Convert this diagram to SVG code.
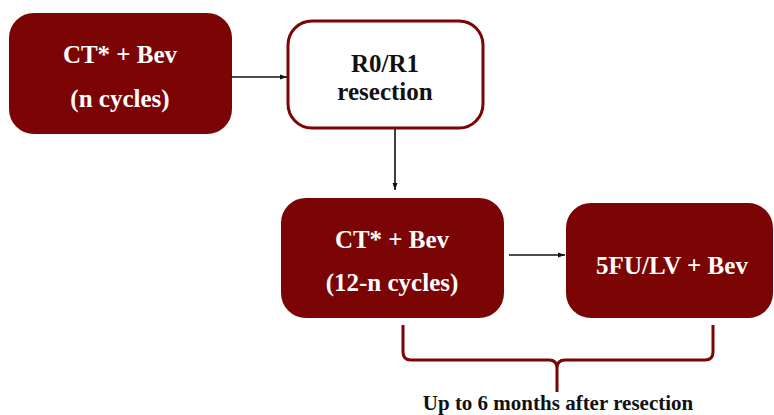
<svg xmlns="http://www.w3.org/2000/svg" width="774" height="415" viewBox="0 0 774 415">
<style>
.dark{fill:#7b0404;stroke:#7b0404;stroke-width:2}
.light{fill:#fff;stroke:#7b0404;stroke-width:3}
.tw{font-family:"Liberation Serif","Times New Roman",serif;font-weight:bold;font-size:25px;fill:#fff;text-anchor:middle}
.tb{font-family:"Liberation Serif","Times New Roman",serif;font-weight:bold;font-size:25px;fill:#111;text-anchor:middle}
.conn{stroke:#111;stroke-width:1.6;fill:none;marker-end:url(#ah)}
.brace{stroke:#7b0404;stroke-width:3;fill:none}
</style>
<defs>
<marker id="ah" markerWidth="8" markerHeight="8" refX="7" refY="4" orient="auto" markerUnits="userSpaceOnUse">
<path d="M0,1.5 L7,4 L0,6.5 Z" fill="#111"/>
</marker>
</defs>
<rect width="774" height="415" fill="#fff"/>
<g id="n1">
<rect class="dark" x="10" y="14" width="221" height="119" rx="24"/>
<text class="tw" x="120" y="63">CT* + Bev</text>
<text class="tw" x="120" y="107">(n cycles)</text>
</g>
<g id="n2">
<rect class="light" x="288" y="21" width="195" height="107" rx="24"/>
<text class="tb" x="385" y="72">R0/R1</text>
<text class="tb" x="385" y="100">resection</text>
</g>
<g id="n3">
<rect class="dark" x="282" y="199" width="221" height="118" rx="24"/>
<text class="tw" x="392" y="248">CT* + Bev</text>
<text class="tw" x="392" y="291">(12-n cycles)</text>
</g>
<g id="n4">
<rect class="dark" x="567" y="204" width="205" height="113" rx="24"/>
<text class="tw" x="672" y="274">5FU/LV + Bev</text>
</g>
<g id="connectors">
<path class="conn" d="M231,77 L287,77"/>
<path class="conn" d="M395,129 L395,190"/>
<path class="conn" d="M509,255 L565,255"/>
<path class="brace" d="M403,325 L403,352 Q403,360 411,360 L549,360 Q557,360 557,368 L557,392 M557,368 Q557,360 565,360 L705,360 Q713,360 713,352 L713,325"/>
</g>
<text class="tb" x="558" y="410" style="font-size:21px">Up to 6 months after resection</text>
</svg>
